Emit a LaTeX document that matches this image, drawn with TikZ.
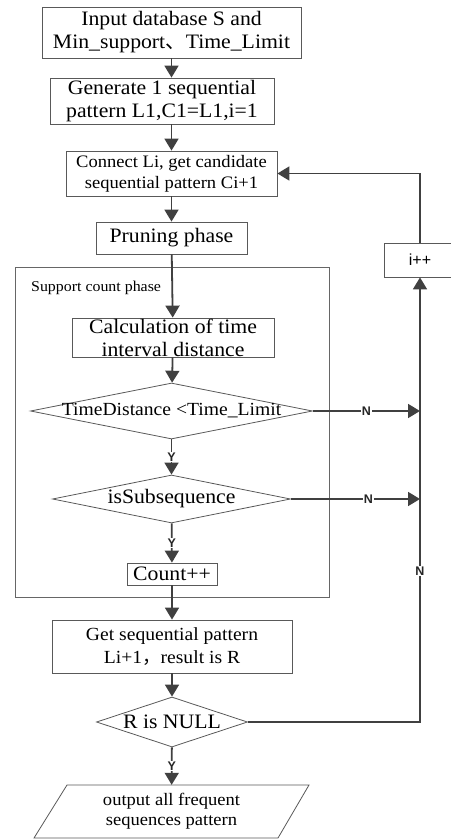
\documentclass[tikz,border=0pt]{standalone}
\usepackage{fontspec}
\setmainfont[FakeStretch=1.06]{Liberation Serif}
\newfontfamily\cjk{Noto Sans CJK SC}
\newfontfamily\ynfont{Liberation Sans}
\usetikzlibrary{arrows.meta,shapes.geometric}
\begin{document}
\begin{tikzpicture}[x=1pt,y=-1pt,
  box/.style={draw=black!65,line width=0.8pt,rectangle,inner sep=0pt,align=center},
  dia/.style={draw=black!65,line width=0.8pt,diamond,inner sep=0pt},
  arr/.style={draw=black!75,line width=1.8pt,-{Triangle[length=12pt,width=14pt]}},
  yn/.style={font=\ynfont\bfseries\fontsize{12.5}{14}\selectfont,fill=white,inner sep=1pt,text=black!85},
  fA/.style={font=\fontsize{20.5}{23}\selectfont},
  fB/.style={font=\fontsize{17.5}{21}\selectfont}]
\useasboundingbox (0,0) rectangle (450,840);
% support count frame
\node[draw=black!60,line width=0.9pt,rectangle,minimum width=314pt,minimum height=330pt,inner sep=0pt] (sc) at (172,432) {};
\node[anchor=west,inner sep=0pt,font=\fontsize{15}{17}\selectfont] (sclab) at (31,288) {Support count phase};
% nodes
\node[box,fA,minimum width=259pt,minimum height=51pt] (b1) at (171.5,32.5) {Input database S and\\Min\_support{\cjk 、}Time\_Limit};
\node[box,fA,minimum width=224pt,minimum height=46pt] (b2) at (162,101) {Generate 1 sequential\\pattern L1,C1=L1,i=1};
\node[box,fB,minimum width=211pt,minimum height=45pt] (b3) at (171.5,173.5) {Connect Li, get candidate\\sequential pattern Ci+1};
\node[box,fA,minimum width=151pt,minimum height=32pt] (b4) at (171.5,238) {Pruning phase};
\node[box,font=\ynfont\fontsize{16}{18}\selectfont,minimum width=72pt,minimum height=34pt] (ipp) at (420,260) {i++};
\node[box,fA,minimum width=202pt,minimum height=39pt] (calc) at (173,337.5) {Calculation of time\\interval distance};
\node[dia,minimum width=282pt,minimum height=56pt,label={[font=\fontsize{18.5}{22}\selectfont]center:TimeDistance <Time\_Limit}] (d1) at (171.5,411) {};
\node[dia,minimum width=238pt,minimum height=48pt,label={[fA]center:isSubsequence}] (d2) at (171.5,499) {};
\node[box,fA,minimum width=90pt,minimum height=22pt] (cnt) at (172,574) {Count++};
\node[box,font=\fontsize{18.5}{23}\selectfont,minimum width=240pt,minimum height=53pt] (get) at (172,646.5) {Get sequential pattern\\Li+1{\cjk ，}result is R};
\node[dia,minimum width=151pt,minimum height=50pt,label={[fA]center:R is NULL}] (d3) at (172,722) {};
\draw[draw=black!65,line width=0.8pt] (67,785) -- (309,785) -- (278,838) -- (34,838) -- cycle;
\node[inner sep=0pt,minimum height=53pt,align=center,font=\fontsize{17.5}{20}\selectfont] (out) at (171.5,811.5) {output all frequent\\sequences pattern};
% rail coordinates
\coordinate (r1) at (420,411);
\coordinate (r2) at (420,499);
% connectors
\draw[arr] (b1) -- (b2.north -| b1.south);
\draw[arr] (b2.south -| b1.south) -- (b1.south |- b3.north);
\draw[arr] (b3) -- (b4);
\draw[arr] (b4) -- (calc);
\draw[arr] (calc) -- (d1);
\draw[arr] (d1) -- node[yn]{Y} (d2);
\draw[arr] (d2) -- node[yn]{Y} (cnt);
\draw[arr] (cnt) -- (get);
\draw[arr] (get) -- (d3);
\draw[arr] (d3) -- node[yn]{Y} (out);
\draw[arr] (d1.east) -- node[yn]{N} (r1);
\draw[arr] (d2.east) -- node[yn,pos=0.6]{N} (r2);
\draw[arr] (d3.east) -| node[yn,pos=0.67]{N} (ipp.south);
\draw[arr] (ipp.north) |- (b3.east);
\end{tikzpicture}
\end{document}
